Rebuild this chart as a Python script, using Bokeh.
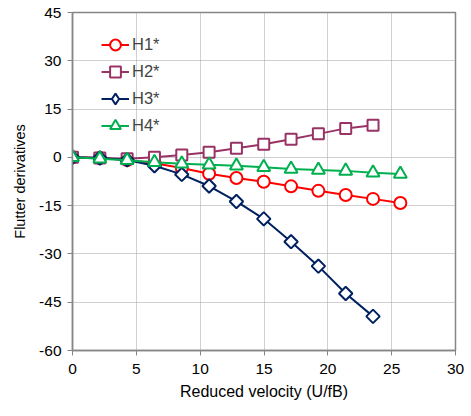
import math
from bokeh.plotting import figure
from bokeh.models import Legend, LegendItem, FixedTicker, Range1d
from bokeh.embed import file_html
from bokeh.resources import INLINE

x_vals = [0, 2.14, 4.28, 6.42, 8.56, 10.7, 12.84, 14.98, 17.12, 19.26, 21.4, 23.54, 25.68]
h1 = [0, -0.2, -0.8, -1.8, -3.3, -5.1, -6.4, -7.6, -9.0, -10.4, -11.7, -12.9, -14.2]
h2 = [0, -0.2, -0.4, 0.0, 0.7, 1.6, 2.8, 4.1, 5.6, 7.3, 9.0, 10.0]
h3 = [0, -0.2, -0.8, -2.6, -5.3, -8.9, -13.7, -19.1, -26.2, -33.8, -42.3, -49.4]
h4 = [0, -0.4, -0.9, -1.5, -2.0, -2.3, -2.6, -3.1, -3.6, -3.9, -4.2, -4.8, -5.2]
names = ["H1*", "H2*", "H3*", "H4*"]
x_ticks = [0, 5, 10, 15, 20, 25, 30]
y_ticks = [-60, -45, -30, -15, 0, 15, 30, 45]

FONT = "Liberation Sans"

p = figure(width=471, height=416, output_backend="svg", toolbar_location=None,
           x_range=Range1d(0, 30), y_range=Range1d(-60, 45),
           min_border_left=72, min_border_right=16, min_border_top=12, min_border_bottom=66)
p.background_fill_color = "white"
p.border_fill_color = "white"
p.outline_line_color = "#868686"
p.outline_line_width = 1.5

for ax in (p.xaxis[0], p.yaxis[0]):
    ax.axis_line_color = "#868686"
    ax.axis_line_width = 1.5
    ax.major_tick_line_color = "#868686"
    ax.major_tick_in = 0
    ax.major_tick_out = 5
    ax.minor_tick_line_color = None
    ax.major_label_text_font = FONT
    ax.major_label_text_font_size = "15.5px"
    ax.major_label_text_color = "black"
    ax.axis_label_text_font = FONT
    ax.axis_label_text_font_style = "normal"
    ax.axis_label_text_color = "black"

p.xaxis[0].ticker = FixedTicker(ticks=x_ticks)
p.yaxis[0].ticker = FixedTicker(ticks=y_ticks)
p.yaxis[0].major_label_overrides = {t: str(t) for t in y_ticks}
p.xaxis.axis_label = "Reduced velocity (U/fB)"
p.yaxis.axis_label = "Flutter derivatives"
p.xaxis.axis_label_text_font_size = "16px"
p.yaxis.axis_label_text_font_size = "14.5px"
p.xaxis.major_label_standoff = 8
p.yaxis.major_label_standoff = 6
p.xaxis.axis_label_standoff = 6
p.yaxis.axis_label_standoff = 8

for g in (p.xgrid[0], p.ygrid[0]):
    g.grid_line_color = "#a0a0a0"
    g.grid_line_dash = "1 1"
    g.grid_line_width = 1

series = [
    (h1, "#FF0000", "circle", 12, 0, "circle"),
    (h2, "#993366", "square", 11, 0, "square"),
    (h3, "#002060", "square", 9.5, math.pi / 4, "diamond"),
    (h4, "#00B050", "triangle", 13, 0, "triangle"),
]
items = []
for (ys, col, mk, sz, ang, leg_mk), nm in zip(series, names):
    xs = x_vals[:len(ys)]
    r1 = p.line(xs, ys, line_color=col, line_width=2)
    r2 = p.scatter(xs, ys, marker=mk, size=sz, angle=ang, line_color=col, line_width=2,
                   fill_color="white")
    if leg_mk != mk:
        # legend glyphs are drawn unrotated, so use a diamond marker for the key
        r2 = p.scatter(x=[float("nan")], y=[float("nan")], marker=leg_mk, size=sz,
                       line_color=col, line_width=2, fill_color="white")
    items.append(LegendItem(label=nm, renderers=[r1, r2]))

leg = Legend(items=items, location=(29, 211), border_line_color=None,
             background_fill_alpha=0, padding=5, spacing=0,
             label_text_font=FONT, label_text_font_size="16.5px",
             glyph_width=28, glyph_height=27, label_height=27, label_standoff=3)
p.add_layout(leg)

open("out.html", "w").write(file_html(p, INLINE))
